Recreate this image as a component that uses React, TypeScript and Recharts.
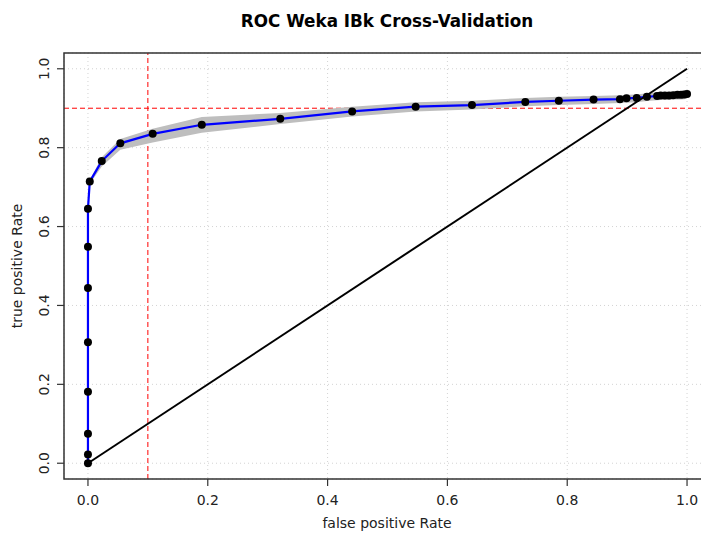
import React from 'react';
import { ComposedChart, Line, Area, XAxis, YAxis, CartesianGrid, ReferenceLine, ReferenceArea } from 'recharts';

// ROC curve points (false positive rate / true positive rate)
const fprValues = [0, 0, 0, 0, 0, 0, 0, 0, 0.003, 0.023, 0.054, 0.108, 0.190, 0.321, 0.441, 0.547, 0.641, 0.730, 0.786, 0.844, 0.888, 0.899, 0.916, 0.933, 0.950, 0.956, 0.963, 0.970, 0.977, 0.984, 0.990, 0.995, 1.0];
const tprValues = [0, 0.022, 0.075, 0.181, 0.307, 0.444, 0.549, 0.645, 0.714, 0.766, 0.811, 0.835, 0.858, 0.873, 0.892, 0.904, 0.908, 0.916, 0.919, 0.922, 0.923, 0.925, 0.926, 0.929, 0.931, 0.932, 0.932, 0.932, 0.933, 0.934, 0.934, 0.935, 0.936];
// spread band (lower / upper)
const bandLow = [0, 0.02, 0.073, 0.179, 0.305, 0.442, 0.547, 0.642, 0.708, 0.752, 0.795, 0.813, 0.838, 0.860, 0.879, 0.892, 0.897, 0.905, 0.908, 0.911, 0.913, 0.914, 0.915, 0.918, 0.920, 0.921, 0.921, 0.921, 0.922, 0.922, 0.922, 0.923, 0.924];
const bandHigh = [0, 0.024, 0.077, 0.183, 0.309, 0.446, 0.551, 0.648, 0.718, 0.776, 0.822, 0.848, 0.878, 0.888, 0.904, 0.915, 0.919, 0.926, 0.929, 0.931, 0.933, 0.934, 0.935, 0.938, 0.940, 0.941, 0.941, 0.941, 0.942, 0.943, 0.943, 0.944, 0.945];

// chance diagonal
const diagFpr = [0, 1];
const diagTpr = [0, 1];

const axisTicks = [0, 0.2, 0.4, 0.6, 0.8, 1.0];
const tickLabels = ['0.0', '0.2', '0.4', '0.6', '0.8', '1.0'];

const cutoffFpr = 0.1;
const cutoffTpr = 0.9;

const title = 'ROC Weka IBk Cross-Validation';
const xTitle = 'false positive Rate';
const yTitle = 'true positive Rate';

const curveData = fprValues.map((f, i) => ({ fpr: f, tpr: tprValues[i], band: [bandLow[i], bandHigh[i]] }));
const diagData = diagFpr.map((f, i) => ({ fpr: f, diag: diagTpr[i] }));

const FONT = 'DejaVu Sans, Verdana, sans-serif';

const labelFor = (v: number) => {
  const idx = axisTicks.findIndex((t) => Math.abs(t - v) < 1e-9);
  return idx >= 0 ? tickLabels[idx] : String(v);
};

const XTick = (props: any) => {
  const { x, y, payload } = props;
  return (
    <text x={x} y={y + 17} textAnchor="middle" fontFamily={FONT} fontSize={14} fill="#222">
      {labelFor(payload.value)}
    </text>
  );
};

const YTick = (props: any) => {
  const { x, y, payload } = props;
  const tx = x - 6;
  return (
    <text x={tx} y={y} transform={`rotate(-90 ${tx} ${y})`} textAnchor="middle" fontFamily={FONT} fontSize={14} fill="#222">
      {labelFor(payload.value)}
    </text>
  );
};

export default function App() {
  return (
    <div style={{ position: 'fixed', left: 0, top: 0, width: 701, height: 533, overflow: 'hidden', background: '#fff' }}>
      <div style={{ position: 'absolute', left: 0, top: 0 }}>
        <ComposedChart width={711} height={533} data={curveData} margin={{ top: 53, right: 0, left: 0, bottom: 0 }}>
          <CartesianGrid stroke="#d3d3d3" strokeDasharray="1 3" strokeWidth={1} />
          <XAxis
            type="number"
            dataKey="fpr"
            domain={[-0.04, 1.04]}
            ticks={axisTicks}
            allowDataOverflow
            height={54}
            axisLine={false}
            tickLine={{ stroke: '#333', strokeWidth: 1.2 }}
            tickSize={7}
            tickMargin={2}
            tick={<XTick />}
            interval={0}
          />
          <YAxis
            type="number"
            domain={[-0.04, 1.04]}
            ticks={axisTicks}
            allowDataOverflow
            width={64}
            axisLine={false}
            tickLine={{ stroke: '#333', strokeWidth: 1.2 }}
            tickSize={7}
            tickMargin={2}
            tick={<YTick />}
            interval={0}
          />
          <ReferenceLine x={cutoffFpr} stroke="#ff0000" strokeDasharray="5 3" strokeWidth={1} zIndex={50} />
          <ReferenceLine y={cutoffTpr} stroke="#ff0000" strokeDasharray="5 3" strokeWidth={1} zIndex={50} />
          <Area
            type="linear"
            dataKey="band"
            stroke="none"
            fill="#bebebe"
            fillOpacity={1}
            isAnimationActive={false}
            dot={false}
            activeDot={false}
            zIndex={100}
          />
          <Line
            type="linear"
            dataKey="tpr"
            stroke="#0000ff"
            strokeWidth={2.2}
            dot={{ r: 4, fill: '#000', stroke: '#000', strokeWidth: 0 }}
            activeDot={false}
            isAnimationActive={false}
          />
          <Line
            type="linear"
            data={diagData}
            dataKey="diag"
            stroke="#000"
            strokeWidth={2}
            dot={false}
            activeDot={false}
            isAnimationActive={false}
          />
          <ReferenceArea x1={-0.04} x2={1.04} y1={-0.04} y2={1.04} fill="none" fillOpacity={0} stroke="#333" strokeWidth={1.5} ifOverflow="visible" />
        </ComposedChart>
      </div>
      <svg width={701} height={533} style={{ position: 'absolute', left: 0, top: 0, pointerEvents: 'none' }}>
        <text x={387} y={27} textAnchor="middle" fontFamily={FONT} fontSize={16.8} fontWeight="bold" fill="#000">
          {title}
        </text>
        <text x={387} y={528} textAnchor="middle" fontFamily={FONT} fontSize={14} fill="#222">
          {xTitle}
        </text>
        <text x={22} y={266} transform="rotate(-90 22 266)" textAnchor="middle" fontFamily={FONT} fontSize={14} fill="#222">
          {yTitle}
        </text>
      </svg>
    </div>
  );
}
